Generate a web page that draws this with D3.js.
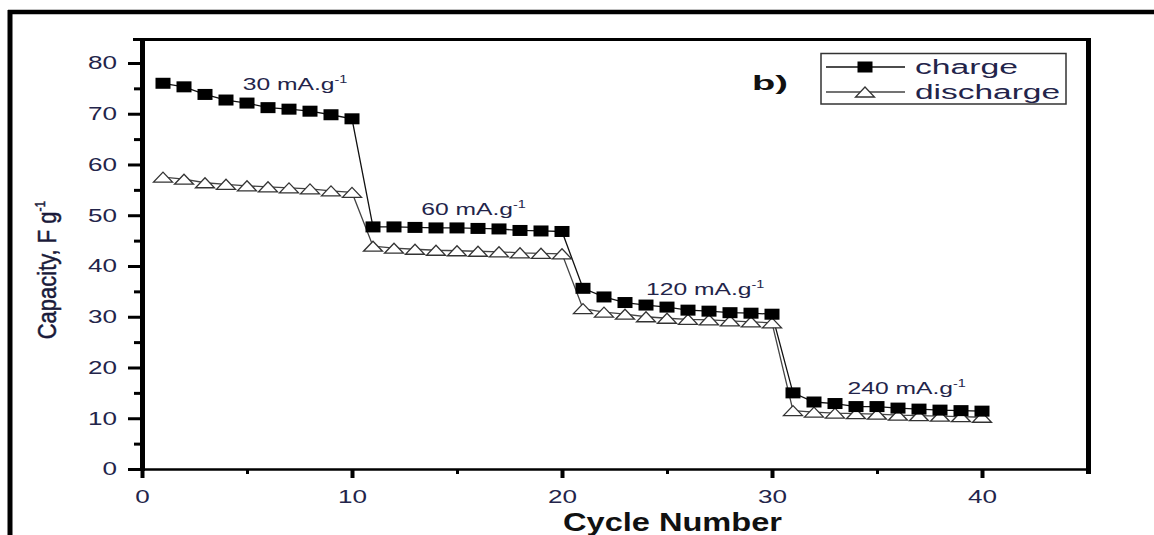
<!DOCTYPE html>
<html>
<head>
<meta charset="utf-8">
<script src="https://cdn.jsdelivr.net/npm/d3@7"></script>
<style>
  body { margin: 0; background: #fff; }
  svg { display: block; font-family: "Liberation Sans", Arial, sans-serif; }
</style>
</head>
<body>
<script>
//
// rate capability chart (charge / discharge vs cycle)
//

const cycles = [1, 2, 3, 4, 5, 6, 7, 8, 9, 10,
    11, 12, 13, 14, 15, 16, 17, 18, 19, 20,
    21, 22, 23, 24, 25, 26, 27, 28, 29, 30,
    31, 32, 33, 34, 35, 36, 37, 38, 39, 40];

const charge = [76.0, 75.3, 73.8, 72.7, 72.1, 71.2, 70.9, 70.5, 69.8, 69.0,
    47.7, 47.7, 47.6, 47.5, 47.5, 47.4, 47.3, 47.0, 46.9, 46.8,
    35.6, 33.9, 32.8, 32.3, 31.9, 31.3, 31.1, 30.8, 30.7, 30.5,
    15.0, 13.2, 12.9, 12.3, 12.3, 12.0, 11.8, 11.6, 11.5, 11.4];

const discharge = [57.5, 57.1, 56.4, 56.1, 55.8, 55.6, 55.4, 55.2, 54.8, 54.5,
    43.9, 43.5, 43.3, 43.1, 43.0, 42.9, 42.8, 42.6, 42.5, 42.4,
    31.6, 30.9, 30.5, 30.0, 29.7, 29.5, 29.4, 29.2, 29.0, 28.8,
    11.5, 11.2, 11.0, 10.9, 10.8, 10.6, 10.5, 10.4, 10.3, 10.2];

const xTicks = [0, 10, 20, 30, 40];
const xMinor = [5, 15, 25, 35];
const yTicks = [0, 10, 20, 30, 40, 50, 60, 70, 80];
const yMinor = [5, 15, 25, 35, 45, 55, 65, 75];

// rate labels: text, cycle, capacity (anchor point of label)
const rateLabels = [
    { 'rate': '30 mA.g', 'cx': 4.8, 'cy': 74.7 },
    { 'rate': '60 mA.g', 'cx': 13.3, 'cy': 50.0 },
    { 'rate': '120 mA.g', 'cx': 24.0, 'cy': 34.3 },
    { 'rate': '240 mA.g', 'cx': 33.6, 'cy': 14.8 }
];

const seriesNames = ['charge', 'discharge'];

const _textColor = '#23244a';
const _stretch = 1.45;

var svg = d3.select("body").append("svg")
    .attr("width", 1154)
    .attr("height", 535);

// outer figure frame
svg.append("line").attr("x1", 8).attr("x2", 1154).attr("y1", 12).attr("y2", 12)
    .attr("stroke", "#000").attr("stroke-width", 4.5);
svg.append("line").attr("x1", 10).attr("x2", 10).attr("y1", 10).attr("y2", 535)
    .attr("stroke", "#000").attr("stroke-width", 5);

var x = d3.scaleLinear().domain([0, 45]).range([142, 1087]);
var y = d3.scaleLinear().domain([0, 85]).range([469, 37.6]);

// minor ticks
svg.append("g")
    .attr("transform", "translate(" + x(0) + ",0)")
    .call(d3.axisLeft(y).tickValues(yMinor).tickSize(8).tickFormat(""))
    .call(g => g.select(".domain").remove())
    .selectAll("line").attr("stroke-width", 3);

svg.append("g")
    .attr("transform", "translate(0," + y(0) + ")")
    .call(d3.axisBottom(x).tickValues(xMinor).tickSize(5).tickFormat(""))
    .call(g => g.select(".domain").remove())
    .selectAll("line").attr("stroke-width", 3);

// major ticks + labels
var yAxisG = svg.append("g")
    .attr("transform", "translate(" + x(0) + ",0)")
    .call(d3.axisLeft(y).tickValues(yTicks).tickSize(14).tickPadding(11))
    .call(g => g.select(".domain").remove());
yAxisG.selectAll("line").attr("stroke-width", 3);
yAxisG.selectAll("text")
    .attr("x", -25 / _stretch)
    .attr("transform", "scale(" + _stretch + ",1)")
    .attr("fill", _textColor)
    .style("font-size", "18px")
    .style("font-family", "'Liberation Sans', Arial, sans-serif");

var xAxisG = svg.append("g")
    .attr("transform", "translate(0," + y(0) + ")")
    .call(d3.axisBottom(x).tickValues(xTicks).tickSize(9).tickPadding(12))
    .call(g => g.select(".domain").remove());
xAxisG.selectAll("line").attr("stroke-width", 4);
xAxisG.selectAll("text")
    .attr("transform", "scale(" + _stretch + ",1)")
    .attr("fill", _textColor)
    .style("font-size", "18px")
    .style("font-family", "'Liberation Sans', Arial, sans-serif");

// plot box
svg.append("line").attr("x1", 133).attr("x2", 1091).attr("y1", 39.5).attr("y2", 39.5)
    .attr("stroke", "#000").attr("stroke-width", 3);
svg.append("line").attr("x1", 142.5).attr("x2", 142.5).attr("y1", 38).attr("y2", 471)
    .attr("stroke", "#000").attr("stroke-width", 5);
svg.append("line").attr("x1", 140).attr("x2", 1091).attr("y1", 469.5).attr("y2", 469.5)
    .attr("stroke", "#000").attr("stroke-width", 2.5);
svg.append("line").attr("x1", 1088.5).attr("x2", 1088.5).attr("y1", 38).attr("y2", 474)
    .attr("stroke", "#000").attr("stroke-width", 5);

// series
var chargeData = cycles.map((c, i) => ({ 'X': c, 'Y': charge[i] }));
var dischargeData = cycles.map((c, i) => ({ 'X': c, 'Y': discharge[i] }));

var line = d3.line().x(d => x(d.X)).y(d => y(d.Y));

function trianglePath(w, h) {
    return "M0," + (-h / 2) + "L" + (w / 2) + "," + (h / 2) + "L" + (-w / 2) + "," + (h / 2) + "Z";
}

svg.append("path")
    .datum(dischargeData)
    .attr("d", line)
    .attr("fill", "none")
    .attr("stroke", "#444")
    .attr("stroke-width", 1.3);

svg.append("path")
    .datum(chargeData)
    .attr("d", line)
    .attr("fill", "none")
    .attr("stroke", "#111")
    .attr("stroke-width", 1.3);

svg.append("g")
    .selectAll("path")
    .data(dischargeData)
    .enter()
    .append("path")
    .attr("transform", d => "translate(" + x(d.X) + "," + y(d.Y) + ")")
    .attr("d", trianglePath(19, 10))
    .attr("fill", "#fff")
    .attr("stroke", "#333")
    .attr("stroke-width", 1.3);

svg.append("g")
    .selectAll("rect")
    .data(chargeData)
    .enter()
    .append("rect")
    .attr("x", d => x(d.X) - 7.5)
    .attr("y", d => y(d.Y) - 5.5)
    .attr("width", 15)
    .attr("height", 11)
    .attr("fill", "#000");

// rate annotations
var ann = svg.append("g")
    .selectAll("g")
    .data(rateLabels)
    .enter()
    .append("g")
    .attr("transform", d => "translate(" + x(d.cx) + "," + y(d.cy) + ") scale(" + _stretch + ",1)")
    .append("text")
    .attr("fill", _textColor)
    .style("font-size", "17px");
ann.append("tspan").text(d => d.rate);
ann.append("tspan").attr("dy", -7).style("font-size", "10px").text("-1");

// panel label
svg.append("text")
    .attr("x", 752)
    .attr("y", 90)
    .attr("fill", "#111")
    .style("font-size", "20px")
    .style("font-weight", "bold")
    .attr("textLength", 36)
    .attr("lengthAdjust", "spacingAndGlyphs")
    .text("b)");

// legend
var legend = svg.append("g");
legend.append("rect")
    .attr("x", 821).attr("y", 53.5)
    .attr("width", 245).attr("height", 50.5)
    .attr("fill", "#fff")
    .attr("stroke", "#333")
    .attr("stroke-width", 1.5);

var legendRows = legend.selectAll("g.row")
    .data(seriesNames)
    .enter()
    .append("g")
    .attr("class", "row")
    .attr("transform", (d, idx) => "translate(0," + (67 + idx * 25) + ")");

legendRows.append("line")
    .attr("x1", 826).attr("x2", 905)
    .attr("stroke", (d, idx) => idx == 0 ? "#111" : "#444")
    .attr("stroke-width", 1.3);

legendRows.filter((d, idx) => idx == 0)
    .append("rect")
    .attr("x", 857.5).attr("y", -5.5)
    .attr("width", 15).attr("height", 11)
    .attr("fill", "#000");

legendRows.filter((d, idx) => idx == 1)
    .append("path")
    .attr("transform", "translate(865,0)")
    .attr("d", trianglePath(19, 10))
    .attr("fill", "#fff")
    .attr("stroke", "#333")
    .attr("stroke-width", 1.3);

legendRows.append("text")
    .attr("x", 915)
    .attr("y", 6.5)
    .attr("fill", _textColor)
    .style("font-size", "20px")
    .attr("textLength", d => d == 'charge' ? 103 : 145)
    .attr("lengthAdjust", "spacingAndGlyphs")
    .text(d => d);

// axis titles
svg.append("text")
    .attr("x", 563)
    .attr("y", 531)
    .attr("fill", "#111")
    .style("font-size", "25px")
    .style("font-weight", "bold")
    .attr("textLength", 219)
    .attr("lengthAdjust", "spacingAndGlyphs")
    .text("Cycle Number");

var yTitle = svg.append("g")
    .attr("transform", "translate(56,270) scale(1.2,1) rotate(-90)")
    .append("text")
    .attr("text-anchor", "middle")
    .attr("fill", "#1a1a3a")
    .style("font-size", "22px")
    .style("stroke", "#1a1a3a")
    .style("stroke-width", 0.4);
yTitle.append("tspan").text("Capacity, F g");
yTitle.append("tspan").attr("dy", -9).style("font-size", "12px").text("-1");
</script>
</body>
</html>
